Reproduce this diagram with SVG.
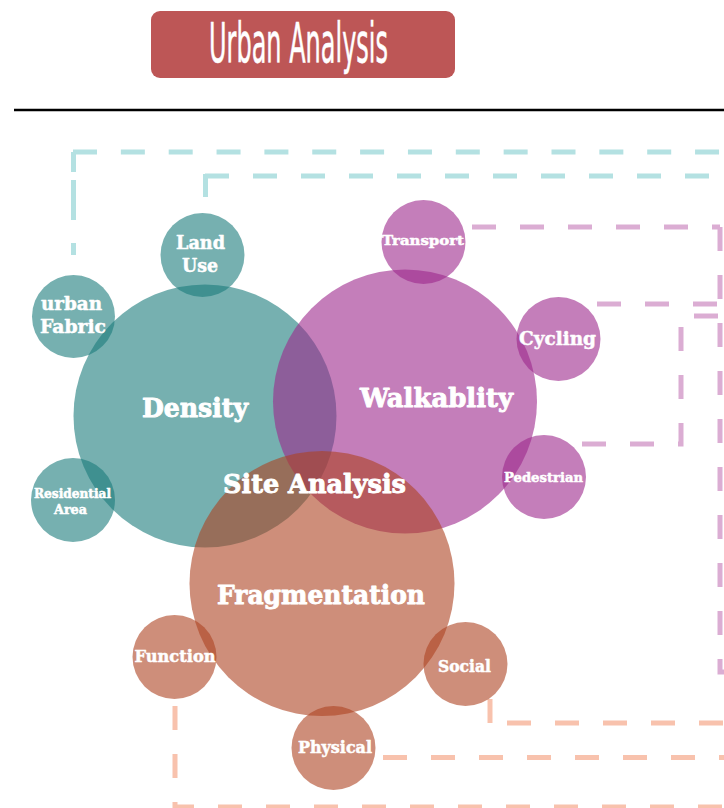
<svg xmlns="http://www.w3.org/2000/svg" width="724" height="808" viewBox="0 0 724 808">
<style>
.dash{fill:none;stroke-width:5;stroke-dasharray:24 24;stroke-linecap:butt}
.teal-l{stroke:#B4E1E2}
.mag-l{stroke:#DBADD3}
.sal-l{stroke:#F8C2AD}
.teal{fill:rgb(27,123,124);fill-opacity:0.6}
.mag{fill:rgb(157,40,140);fill-opacity:0.6}
.sal{fill:rgb(173,67,33);fill-opacity:0.6}
.lbl{font-family:"DejaVu Serif","Liberation Serif",serif;font-weight:bold;fill:#FFFFFF;stroke:#FFFFFF;stroke-width:0.5;stroke-linejoin:round;text-anchor:middle}
.big{font-size:26px;stroke-width:0.9}
</style>
<rect width="724" height="808" fill="#FFFFFF"/>
<g id="header">
<rect x="151" y="11" width="304" height="67" rx="9" ry="9" fill="#BD5656"/>
<text x="298.5" y="62" font-family="DejaVu Sans,sans-serif" font-size="56" fill="#FFFFFF" stroke="#FFFFFF" stroke-width="0.6" text-anchor="middle" textLength="179" lengthAdjust="spacingAndGlyphs">Urban Analysis</text>
</g>
<line id="rule" x1="14" y1="110" x2="724" y2="110" stroke="#000000" stroke-width="2.5"/>
<g id="connectors">
<path class="dash teal-l" d="M73 152 H724" style="stroke-dasharray:24 23.85"/>
<path class="dash teal-l" d="M73.5 152 V255" style="stroke-dasharray:20 8 40 23 12 100"/>
<path class="dash teal-l" d="M205 176 H724"/>
<path class="dash teal-l" d="M205.5 174 V197" style="stroke-dasharray:none"/>
<path class="dash mag-l" d="M472 227 H720"/>
<path class="dash mag-l" d="M720 227 V672 H724"/>
<path class="dash mag-l" d="M597 304 H724"/>
<path class="dash mag-l" d="M582 444 H681 V316 H724"/>
<path class="dash sal-l" d="M175 706 V807 H724"/>
<path class="dash sal-l" d="M490 699 V723" style="stroke-dasharray:none"/>
<path class="dash sal-l" d="M507 723 H724"/>
<path class="dash sal-l" d="M383 757.5 H724"/>
</g>
<g id="density">
<circle class="teal" cx="205" cy="416" r="131.5"/>
</g>
<g id="walkability">
<circle class="mag" cx="405" cy="401.5" r="132"/>
</g>
<g id="fragmentation">
<circle class="sal" cx="322" cy="583.5" r="132.5"/>
</g>
<g id="land-use">
<circle class="teal" cx="202.5" cy="255" r="42"/>
<text class="lbl" x="200.5" y="249" font-size="19" textLength="49" lengthAdjust="spacingAndGlyphs">Land</text>
<text class="lbl" x="200" y="272" font-size="19" textLength="36" lengthAdjust="spacingAndGlyphs">Use</text>
</g>
<g id="urban-fabric">
<circle class="teal" cx="73.5" cy="316.5" r="41.5"/>
<text class="lbl" x="71.5" y="310" font-size="18" textLength="61" lengthAdjust="spacingAndGlyphs">urban</text>
<text class="lbl" x="73" y="333" font-size="18" textLength="66" lengthAdjust="spacingAndGlyphs">Fabric</text>
</g>
<g id="residential-area">
<circle class="teal" cx="73" cy="500" r="42"/>
<text class="lbl" x="72.5" y="498" font-size="12" textLength="77" lengthAdjust="spacingAndGlyphs">Residential</text>
<text class="lbl" x="70.5" y="514" font-size="12" textLength="33" lengthAdjust="spacingAndGlyphs">Area</text>
</g>
<g id="transport">
<circle class="mag" cx="423.5" cy="242" r="42"/>
<text class="lbl" x="423" y="245" font-size="13" textLength="82" lengthAdjust="spacingAndGlyphs">Transport</text>
</g>
<g id="cycling">
<circle class="mag" cx="558.5" cy="339" r="42"/>
<text class="lbl" x="557.5" y="345" font-size="19" textLength="77" lengthAdjust="spacingAndGlyphs">Cycling</text>
</g>
<g id="pedestrian">
<circle class="mag" cx="544" cy="477" r="42"/>
<text class="lbl" x="543.5" y="482" font-size="13.5" textLength="79" lengthAdjust="spacingAndGlyphs">Pedestrian</text>
</g>
<g id="function">
<circle class="sal" cx="174.5" cy="657" r="42"/>
<text class="lbl" x="175" y="662" font-size="16" textLength="81" lengthAdjust="spacingAndGlyphs">Function</text>
</g>
<g id="social">
<circle class="sal" cx="465.5" cy="664" r="42"/>
<text class="lbl" x="464.5" y="672" font-size="16" textLength="53" lengthAdjust="spacingAndGlyphs">Social</text>
</g>
<g id="physical">
<circle class="sal" cx="333.5" cy="748" r="42"/>
<text class="lbl" x="335" y="753" font-size="16" textLength="74" lengthAdjust="spacingAndGlyphs">Physical</text>
</g>
<g id="labels">
<text class="lbl big" x="195" y="417" textLength="106" lengthAdjust="spacingAndGlyphs">Density</text>
<text class="lbl big" x="436.5" y="407" textLength="153" lengthAdjust="spacingAndGlyphs">Walkablity</text>
<text class="lbl big" x="314.5" y="493" textLength="183" lengthAdjust="spacingAndGlyphs">Site Analysis</text>
<text class="lbl big" x="321" y="604" textLength="208" lengthAdjust="spacingAndGlyphs">Fragmentation</text>
</g>
</svg>
